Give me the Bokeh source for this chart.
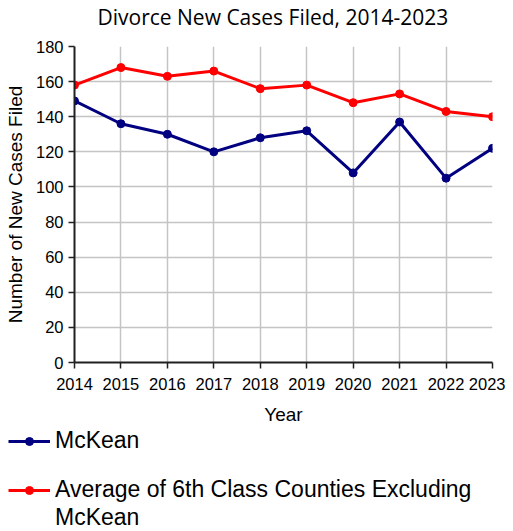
from bokeh.plotting import figure
from bokeh.models import Range1d, Legend, LegendItem, FixedTicker, Title
from bokeh.embed import file_html
from bokeh.resources import INLINE

years = [2014, 2015, 2016, 2017, 2018, 2019, 2020, 2021, 2022, 2023]
mckean = [149, 136, 130, 120, 128, 132, 108, 137, 105, 122]
avg_6th = [158, 168, 163, 166, 156, 158, 148, 153, 143, 140]
y_ticks = [0, 20, 40, 60, 80, 100, 120, 140, 160, 180]
series_names = ["McKean", "Average of 6th Class Counties Excluding", "McKean"]
colors = ["#000080", "#ff0000"]

p = figure(width=505, height=427, output_backend="svg", toolbar_location=None,
           title=None,
           x_range=Range1d(2014, 2023), y_range=Range1d(0, 180),
           min_border_left=74, min_border_right=13, min_border_top=46, min_border_bottom=0)

# spacer between title and frame (closest to frame), then the real title
spacer = Title(text=" ", text_font_size="1px", standoff=13)
p.add_layout(spacer, "above")
main_title = Title(text="Divorce New Cases Filed, 2014-2023", text_font="Open Sans",
                   text_font_size="21px", text_font_style="normal", align="left",
                   offset=23, standoff=0, text_color="#000000")
p.add_layout(main_title, "above")

p.outline_line_color = None
p.background_fill_color = "white"
p.border_fill_color = "white"

for ax in (p.xaxis[0], p.yaxis[0]):
    ax.axis_line_color = "#202020"
    ax.axis_line_width = 2
    ax.major_tick_line_color = "#202020"
    ax.major_tick_line_width = 1.5
    ax.major_tick_out = 6
    ax.major_tick_in = 0
    ax.minor_tick_line_color = None
    ax.major_label_text_font = "Liberation Sans"
    ax.major_label_text_font_size = "16.5px"
    ax.major_label_text_color = "#000000"
    ax.axis_label_text_font = "Liberation Sans"
    ax.axis_label_text_font_size = "19px"
    ax.axis_label_text_font_style = "normal"
    ax.axis_label_text_color = "#000000"

p.xaxis.ticker = FixedTicker(ticks=years)
p.yaxis.ticker = FixedTicker(ticks=y_ticks)
p.xaxis.axis_label = "Year"
p.yaxis.axis_label = "Number of New Cases Filed"
p.xaxis.major_label_standoff = 9
p.yaxis.major_label_standoff = 5
p.xaxis.axis_label_standoff = 11
p.yaxis.axis_label_standoff = 7

p.xgrid.grid_line_color = "#c4c4c4"
p.ygrid.grid_line_color = "#c4c4c4"
p.xgrid.grid_line_width = 1.5
p.ygrid.grid_line_width = 1.5

for vals, c in zip([mckean, avg_6th], colors):
    p.line(years, vals, line_color=c, line_width=3)
    p.scatter(years, vals, size=8, fill_color=c, line_color=c)


def legend_panel(height, entries, spacing):
    f = figure(width=505, height=height, output_backend="svg", toolbar_location=None,
               x_range=Range1d(0, 1), y_range=Range1d(0, 1),
               x_axis_location=None, y_axis_location=None,
               min_border=0, min_border_left=8, outline_line_color=None)
    f.xgrid.visible = False
    f.ygrid.visible = False
    items = []
    for vals, c, name, alpha in entries:
        r1 = f.line(years, vals, line_color=c, line_width=3, line_alpha=alpha, visible=False)
        r2 = f.scatter(years, vals, size=8, fill_color=c, line_color=c,
                       fill_alpha=alpha, line_alpha=alpha, visible=False)
        items.append(LegendItem(label=name, renderers=[r1, r2]))
    leg = Legend(items=items, location="top_left", orientation="vertical")
    leg.label_text_font = "Liberation Sans"
    leg.label_text_font_size = "23px"
    leg.label_text_color = "#000000"
    leg.glyph_width = 42
    leg.label_standoff = 5
    leg.padding = 0
    leg.margin = 0
    leg.spacing = spacing
    leg.border_line_color = None
    leg.background_fill_alpha = 0
    leg.inactive_fill_alpha = 0
    f.add_layout(leg, "center")
    return f


lg1 = legend_panel(49, [(mckean, colors[0], series_names[0], 1.0)], 0)
lg2 = legend_panel(55, [(avg_6th, colors[1], series_names[1], 1.0),
                        (avg_6th, colors[1], series_names[2], 0.0)], 1)

open("out.html", "w").write(file_html([p, lg1, lg2], INLINE))
